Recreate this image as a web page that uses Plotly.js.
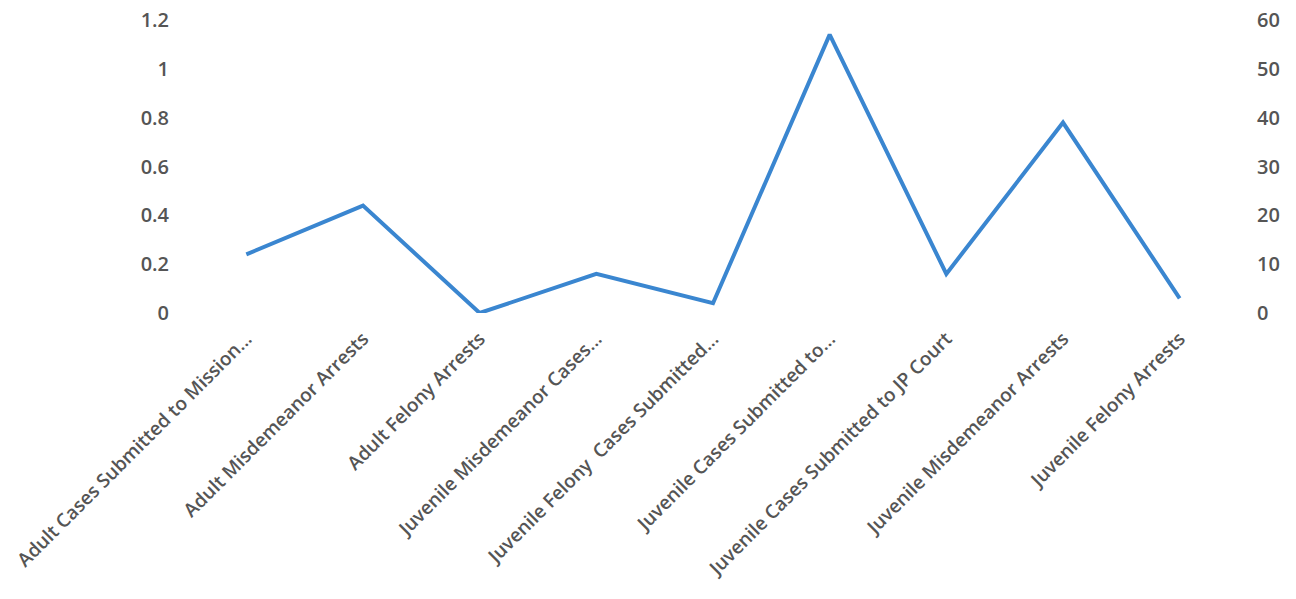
<!DOCTYPE html>
<html>
<head>
<meta charset="utf-8">
<script src="https://cdn.plot.ly/plotly-3.0.1.min.js"></script>
<style>html,body{margin:0;padding:0;background:#fff;}#chart{width:1296px;height:599px;}</style>
</head>
<body>
<div id="chart"></div>
<script>
const categories = [
  "Adult Cases Submitted to Mission...",
  "Adult Misdemeanor Arrests",
  "Adult Felony Arrests",
  "Juvenile Misdemeanor Cases...",
  "Juvenile Felony  Cases Submitted...",
  "Juvenile Cases Submitted to...",
  "Juvenile Cases Submitted to JP Court",
  "Juvenile Misdemeanor Arrests",
  "Juvenile Felony Arrests"
];
const counts = [12, 22, 0, 8, 2, 57, 8, 39, 3];
const leftTicks = [0, 0.2, 0.4, 0.6, 0.8, 1, 1.2];
const rightTicks = [0, 10, 20, 30, 40, 50, 60];

const fontFam = "Open Sans, Lato, sans-serif";
const gray = "#555555";

const traces = [
  {x: [], y: [], type: "scatter", mode: "lines", yaxis: "y", showlegend: false, hoverinfo: "skip"},
  {x: categories, y: counts, type: "scatter", mode: "lines", yaxis: "y2",
   line: {color: "#3A86D0", width: 4}, showlegend: false}
];

const layout = {
  width: 1296, height: 599,
  margin: {l: 188, r: 58, t: 20, b: 286},
  paper_bgcolor: "#fff", plot_bgcolor: "#fff",
  font: {family: fontFam, size: 19, color: gray, weight: 600},
  xaxis: {
    type: "category", categoryarray: categories, categoryorder: "array",
    tickangle: -45, showgrid: false, zeroline: false, showline: false, ticks: "",
    range: [-0.5, categories.length - 0.5],
    ticklabelstandoff: 10,
    tickfont: {family: fontFam, size: 19, color: gray, weight: 600}
  },
  yaxis: {
    range: [0, 1.2], tickvals: leftTicks, ticktext: leftTicks.map(String),
    showgrid: false, zeroline: false, showline: false, ticks: "",
    ticklabelstandoff: 18,
    tickfont: {family: fontFam, size: 20, color: gray, weight: 600}
  },
  yaxis2: {
    range: [0, 60], tickvals: rightTicks, overlaying: "y", side: "right",
    showgrid: false, zeroline: false, showline: false, ticks: "",
    ticklabelstandoff: 18,
    tickfont: {family: fontFam, size: 20, color: gray, weight: 600}
  }
};

Plotly.newPlot("chart", traces, layout, {displayModeBar: false, staticPlot: true});
</script>
</body>
</html>
